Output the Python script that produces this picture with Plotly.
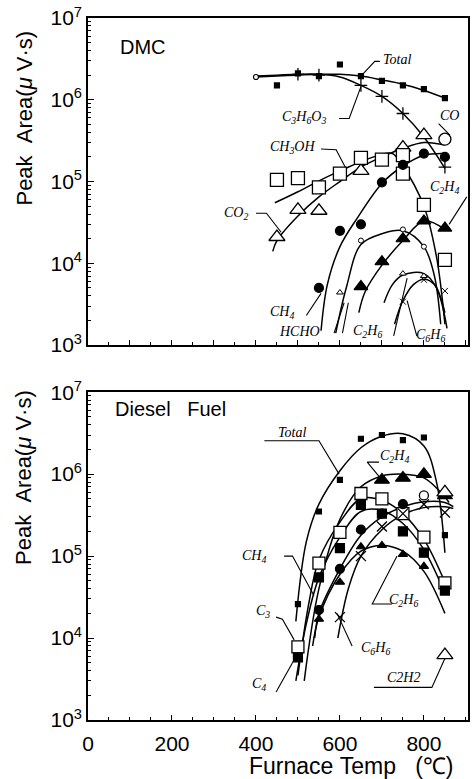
import math
import plotly.graph_objects as go

# ---------------- DMC (top panel) ----------------
dmc_total_x = [450, 500, 550, 600, 650, 700, 750, 800, 850]
dmc_total_y = [1.5e6, 2.1e6, 1.95e6, 2.7e6, 1.95e6, 1.7e6, 1.5e6, 1.35e6, 1.05e6]
dmc_total_fit_x = [400, 450, 500, 550, 600, 650, 700, 750, 800, 850]
dmc_total_fit_y = [1.9e6, 1.95e6, 2.0e6, 2.05e6, 2.05e6, 1.95e6, 1.75e6, 1.55e6, 1.3e6, 1.05e6]

dmc_c3h6o3_x = [500, 550, 650, 700, 750, 850]
dmc_c3h6o3_y = [2.05e6, 2.0e6, 1.5e6, 1.1e6, 6.8e5, 1.5e5]
dmc_c3h6o3_fit_x = [400, 450, 500, 550, 600, 650, 700, 750, 800, 850]
dmc_c3h6o3_fit_y = [1.95e6, 2.0e6, 2.05e6, 2.05e6, 1.9e6, 1.5e6, 1.1e6, 6.8e5, 3.5e5, 1.45e5]
dmc_start_x = [400]
dmc_start_y = [1.9e6]

dmc_co_x = [850]
dmc_co_y = [3.3e5]

dmc_co2_x = [450, 500, 550, 650, 750, 800]
dmc_co2_y = [2.1e4, 4.5e4, 4.4e4, 1.35e5, 2.6e5, 3.7e5]
dmc_co2_fit_x = [440, 450, 500, 550, 600, 650, 700, 750, 800, 850]
dmc_co2_fit_y = [1.4e4, 1.9e4, 3.8e4, 6.5e4, 1.0e5, 1.5e5, 2.0e5, 2.55e5, 3.0e5, 2.8e5]

dmc_ch3oh_x = [450, 500, 550, 600, 650, 700, 750, 750, 800, 850]
dmc_ch3oh_y = [1.05e5, 1.1e5, 8.5e4, 1.25e5, 1.95e5, 1.85e5, 2.1e5, 1.25e5, 5.2e4, 1.1e4]
dmc_ch3oh_fit_x = [445, 500, 550, 600, 650, 700, 725, 750, 800, 830, 850]
dmc_ch3oh_fit_y = [5.5e4, 7.5e4, 1.02e5, 1.35e5, 1.75e5, 2.15e5, 2.2e5, 1.55e5, 5.0e4, 1.2e4, 1.8e3]

dmc_ch4_x = [550, 600, 650, 700, 750, 800, 850]
dmc_ch4_y = [5.0e3, 2.5e4, 3.0e4, 9.8e4, 1.6e5, 2.2e5, 2.0e5]
dmc_ch4_fit_x = [555, 570, 600, 640, 700, 750, 800, 850]
dmc_ch4_fit_y = [1.5e3, 5.5e3, 1.6e4, 3.5e4, 9.5e4, 1.55e5, 2.1e5, 2.2e5]

dmc_c2h4_x = [650, 700, 750, 800, 850]
dmc_c2h4_y = [5.2e3, 1.05e4, 2.0e4, 3.3e4, 2.7e4]
dmc_c2h4_fit_x = [645, 660, 700, 750, 800, 850]
dmc_c2h4_fit_y = [2.5e3, 4.5e3, 9.5e3, 1.9e4, 3.3e4, 2.6e4]

dmc_hcho_x = [650, 750, 800]
dmc_hcho_y = [1.9e4, 2.6e4, 1.6e4]
dmc_hcho_fit_x = [590, 615, 650, 700, 750, 800, 825, 840]
dmc_hcho_fit_y = [1.4e3, 5e3, 1.7e4, 2.3e4, 2.5e4, 1.6e4, 7e3, 1.8e3]

dmc_c2h6_x = [600, 750, 800]
dmc_c2h6_y = [4.4e3, 7.5e3, 7.0e3]
dmc_c2h6_fit_x = [705, 725, 750, 800, 830, 855]
dmc_c2h6_fit_y = [3.3e3, 5.5e3, 7.2e3, 7.5e3, 5.0e3, 1.6e3]

dmc_c6h6_x = [750, 800, 850]
dmc_c6h6_y = [3.4e3, 6.3e3, 4.6e3]
dmc_c6h6_fit_x = [730, 750, 775, 800, 825, 850]
dmc_c6h6_fit_y = [1.8e3, 3.5e3, 5.5e3, 6.4e3, 5.5e3, 2.5e3]

# ---------------- Diesel fuel (bottom panel) ----------------
df_total_x = [500, 550, 600, 650, 700, 750, 800, 850]
df_total_y = [2.6e4, 3.5e5, 8.5e5, 2.7e6, 3.0e6, 2.6e6, 2.8e6, 1.8e5]
df_total_fit_x = [495, 520, 550, 600, 650, 700, 750, 800, 830, 850]
df_total_fit_y = [1.6e4, 1.5e5, 4.3e5, 1.1e6, 2.1e6, 2.9e6, 3.1e6, 2.2e6, 8e5, 1.1e5]

df_c2h4_x = [700, 750, 800, 850]
df_c2h4_y = [8.5e5, 9.0e5, 1.0e6, 5.5e5]
df_c2h4_fit_x = [515, 550, 600, 650, 700, 750, 800, 840, 860]
df_c2h4_fit_y = [3e3, 4e4, 2.8e5, 7e5, 9.5e5, 1.0e6, 9e5, 6e5, 4.5e5]

df_c3_x = [500, 550, 600, 650, 700, 750, 800, 850]
df_c3_y = [7.8e3, 8.2e4, 1.95e5, 5.8e5, 5.0e5, 3.3e5, 1.7e5, 4.7e4]
df_c3_fit_x = [500, 525, 550, 600, 650, 700, 750, 800, 850]
df_c3_fit_y = [3.5e3, 2.5e4, 9e4, 2.6e5, 5.0e5, 4.8e5, 3.3e5, 1.6e5, 4.8e4]

df_c4_x = [500, 550, 600, 650, 700, 750, 800, 850]
df_c4_y = [5.8e3, 5.5e4, 1.25e5, 4.2e5, 3.3e5, 2.0e5, 1.1e5, 3.8e4]
df_c4_fit_x = [495, 520, 550, 600, 650, 700, 750, 800, 850]
df_c4_fit_y = [3e3, 1.5e4, 5.5e4, 1.7e5, 3.5e5, 3.6e5, 2.5e5, 1.2e5, 3.5e4]

df_ch4_x = [550, 600, 650, 700, 750]
df_ch4_y = [2.2e4, 7e4, 2.1e5, 3.3e5, 4.3e5]
df_ch4_fit_x = [540, 550, 600, 650, 700, 750, 800, 850, 870]
df_ch4_fit_y = [1e4, 2.0e4, 7e4, 1.8e5, 3.0e5, 4.0e5, 4.6e5, 4.5e5, 4.0e5]

df_c6h6_x = [600, 650, 700, 750, 800, 850]
df_c6h6_y = [1.8e4, 1.0e5, 2.3e5, 3.3e5, 4.3e5, 3.4e5]
df_c6h6_fit_x = [595, 620, 650, 700, 750, 800, 850, 870]
df_c6h6_fit_y = [1e4, 4e4, 1.0e5, 2.1e5, 3.2e5, 3.9e5, 4.0e5, 3.8e5]

df_c2h6_x = [550, 600, 650, 700, 750, 800, 850]
df_c2h6_y = [1.7e4, 4.8e4, 1.3e5, 1.35e5, 1.05e5, 7.5e4, 3.6e4]
df_c2h6_fit_x = [535, 550, 600, 650, 700, 750, 800, 850]
df_c2h6_fit_y = [8e3, 1.8e4, 6e4, 1.15e5, 1.35e5, 1.15e5, 6.5e4, 2.0e4]

df_c2h2_x = [850, 850]
df_c2h2_y = [6.2e3, 6.0e5]
df_misc_circle_x = [800]
df_misc_circle_y = [5.5e5]

# ---------------- axes ----------------
y_tickvals = [1e3, 1e4, 1e5, 1e6, 1e7]
y_ticktext = ["10<sup>3</sup>", "10<sup>4</sup>", "10<sup>5</sup>", "10<sup>6</sup>", "10<sup>7</sup>"]
y_minor = [k * 10 ** n for n in range(3, 7) for k in range(2, 10)]
x_range = [0, 905]

# ---------------- labels (text, x, y) ----------------
dmc_labels = [
    ("Total", 735, 3.1e6),
    ("C<sub>3</sub>H<sub>6</sub>O<sub>3</sub>", 515, 6.0e5),
    ("CO", 862, 6.5e5),
    ("CH<sub>3</sub>OH", 487, 2.6e5),
    ("CO<sub>2</sub>", 352, 4.1e4),
    ("C<sub>2</sub>H<sub>4</sub>", 848, 8.5e4),
    ("CH<sub>4</sub>", 462, 2.5e3),
    ("HCHO", 503, 1.45e3),
    ("C<sub>2</sub>H<sub>6</sub>", 665, 1.45e3),
    ("C<sub>6</sub>H<sub>6</sub>", 815, 1.3e3),
]
dmc_leaders = [
    ([695, 683, 650], [2.95e6, 2.95e6, 1.95e6]),
    ([598, 622, 650], [5.9e5, 5.9e5, 1.45e6]),
    ([835, 862], [5.1e5, 3.7e5]),
    ([555, 591, 614], [2.5e5, 2.45e5, 1.45e5]),
    ([400, 425, 460], [4.1e4, 4.1e4, 2.4e4]),
    ([902, 860], [6.5e4, 3.0e4]),
    ([520, 555], [2.3e3, 4.3e3]),
    ([586, 610], [1.4e3, 3.3e3]),
    ([606, 620], [1.4e3, 3.3e3]),
    ([728, 760], [1.3e3, 6.6e3]),
    ([783, 760], [1.3e3, 3.5e3]),
]
df_labels = [
    ("Total", 487, 3.2e6),
    ("C<sub>2</sub>H<sub>4</sub>", 730, 1.65e6),
    ("CH<sub>4</sub>", 396, 1.0e5),
    ("C<sub>3</sub>", 416, 2.1e4),
    ("C<sub>4</sub>", 408, 2.7e3),
    ("C<sub>2</sub>H<sub>6</sub>", 752, 2.9e4),
    ("C<sub>6</sub>H<sub>6</sub>", 684, 7.4e3),
    ("C2H2", 752, 3.3e3),
]
df_leaders = [
    ([420, 550, 598], [2.55e6, 2.55e6, 1.0e6]),
    ([693, 665, 697], [1.4e6, 1.4e6, 8.9e5]),
    ([467, 487, 538], [1.0e5, 1.0e5, 3.3e4]),
    ([448, 463, 491], [1.8e4, 1.7e4, 9.5e3]),
    ([448, 495], [2.2e3, 5.9e3]),
    ([724, 677, 736], [2.6e4, 2.6e4, 1.0e5]),
    ([629, 593], [8.0e3, 2.0e4]),
    ([681, 819, 851], [2.5e3, 2.5e3, 5.8e3]),
]

fig = go.Figure()


def curve(x, y, ax):
    fig.add_trace(go.Scatter(x=x, y=y, mode="lines", xaxis=ax[0], yaxis=ax[1],
                             line=dict(color="black", width=1.5, shape="spline", smoothing=1.0),
                             hoverinfo="skip", showlegend=False))


def leader(x, y, ax):
    fig.add_trace(go.Scatter(x=x, y=y, mode="lines", xaxis=ax[0], yaxis=ax[1],
                             line=dict(color="black", width=1.1),
                             hoverinfo="skip", showlegend=False))


def marks(x, y, ax, symbol, size, fill="black", lw=1.2):
    fig.add_trace(go.Scatter(x=x, y=y, mode="markers", xaxis=ax[0], yaxis=ax[1],
                             marker=dict(symbol=symbol, size=size, color=fill,
                                         line=dict(color="black", width=lw)),
                             showlegend=False))


TOP = ("x", "y")
BOT = ("x2", "y2")

for cx, cy in [(dmc_total_fit_x, dmc_total_fit_y), (dmc_c3h6o3_fit_x, dmc_c3h6o3_fit_y),
               (dmc_co2_fit_x, dmc_co2_fit_y), (dmc_ch3oh_fit_x, dmc_ch3oh_fit_y),
               (dmc_ch4_fit_x, dmc_ch4_fit_y), (dmc_c2h4_fit_x, dmc_c2h4_fit_y),
               (dmc_hcho_fit_x, dmc_hcho_fit_y), (dmc_c2h6_fit_x, dmc_c2h6_fit_y),
               (dmc_c6h6_fit_x, dmc_c6h6_fit_y)]:
    curve(cx, cy, TOP)
for lx, ly in dmc_leaders:
    leader(lx, ly, TOP)

marks(dmc_total_x, dmc_total_y, TOP, "square", 5)
marks(dmc_c3h6o3_x, dmc_c3h6o3_y, TOP, "cross-thin", 9, lw=1.3)
marks(dmc_start_x, dmc_start_y, TOP, "circle", 5, fill="white")
marks(dmc_co_x, dmc_co_y, TOP, "circle", 12, fill="white", lw=1.3)
marks(dmc_co2_x, dmc_co2_y, TOP, "triangle-up", 14, fill="white", lw=1.3)
marks(dmc_ch3oh_x, dmc_ch3oh_y, TOP, "square", 13, fill="white", lw=1.3)
marks(dmc_ch4_x, dmc_ch4_y, TOP, "circle", 9)
marks(dmc_c2h4_x, dmc_c2h4_y, TOP, "triangle-up", 12)
marks(dmc_hcho_x, dmc_hcho_y, TOP, "circle", 5, fill="white", lw=1)
marks(dmc_c2h6_x, dmc_c2h6_y, TOP, "triangle-up", 6, fill="white", lw=1)
marks(dmc_c6h6_x, dmc_c6h6_y, TOP, "x-thin", 6, lw=1)

for cx, cy in [(df_total_fit_x, df_total_fit_y), (df_c2h4_fit_x, df_c2h4_fit_y),
               (df_c3_fit_x, df_c3_fit_y), (df_c4_fit_x, df_c4_fit_y),
               (df_ch4_fit_x, df_ch4_fit_y), (df_c6h6_fit_x, df_c6h6_fit_y),
               (df_c2h6_fit_x, df_c2h6_fit_y)]:
    curve(cx, cy, BOT)
for lx, ly in df_leaders:
    leader(lx, ly, BOT)

marks(df_total_x, df_total_y, BOT, "square", 5)
marks(df_c2h4_x, df_c2h4_y, BOT, "triangle-up", 13)
marks(df_c3_x, df_c3_y, BOT, "square", 12, fill="white", lw=1.3)
marks(df_c4_x, df_c4_y, BOT, "square", 9)
marks(df_ch4_x, df_ch4_y, BOT, "circle", 9)
marks(df_c6h6_x, df_c6h6_y, BOT, "x-thin", 10, lw=1.3)
marks(df_c2h6_x, df_c2h6_y, BOT, "triangle-up", 8)
marks(df_c2h2_x, df_c2h2_y, BOT, "triangle-up", 14, fill="white", lw=1.3)
marks(df_misc_circle_x, df_misc_circle_y, BOT, "circle", 9, fill="white", lw=1.3)

LBL_FONT = dict(family="Liberation Serif", size=14, color="black")
annotations = []
for text, x, y in dmc_labels:
    annotations.append(dict(text="<i>" + text + "</i>", x=x, y=math.log10(y), xref="x", yref="y",
                            xanchor="center", yanchor="middle", showarrow=False, font=LBL_FONT))
for text, x, y in df_labels:
    annotations.append(dict(text="<i>" + text + "</i>", x=x, y=math.log10(y), xref="x2", yref="y2",
                            xanchor="center", yanchor="middle", showarrow=False, font=LBL_FONT))

SANS = "Liberation Sans"
YTITLE = "Peak\u00a0\u00a0Area(<i>\u03bc</i>\u00a0V\u00b7s)"
annotations += [
    dict(text="DMC", x=0.078, y=0.958, xref="paper", yref="paper", xanchor="left", yanchor="middle",
         showarrow=False, font=dict(family=SANS, size=20, color="black")),
    dict(text="Diesel\u00a0\u00a0\u00a0Fuel", x=0.065, y=0.443, xref="paper", yref="paper",
         xanchor="left", yanchor="middle",
         showarrow=False, font=dict(family=SANS, size=20, color="black")),
    dict(text=YTITLE, x=-0.168, y=0.857, xref="paper", yref="paper", xanchor="center", yanchor="middle",
         textangle=-90, showarrow=False, font=dict(family=SANS, size=22, color="black")),
    dict(text=YTITLE, x=-0.168, y=0.345, xref="paper", yref="paper", xanchor="center", yanchor="middle",
         textangle=-90, showarrow=False, font=dict(family=SANS, size=22, color="black")),
    dict(text="Furnace\u00a0Temp\u00a0\u00a0\u00a0(\u2103)", x=0.694, y=-0.066, xref="paper", yref="paper",
         xanchor="center", yanchor="middle",
         showarrow=False, font=dict(family=SANS, size=23, color="black")),
]

axis_common = dict(showline=True, linecolor="black", linewidth=1.6, mirror=True, ticks="inside",
                   tickcolor="black", showgrid=False, zeroline=False,
                   tickfont=dict(family=SANS, size=21, color="black"))

fig.update_layout(
    width=472, height=779,
    margin=dict(l=88, r=2, t=18, b=59),
    paper_bgcolor="white", plot_bgcolor="white", showlegend=False,
    xaxis=dict(domain=[0, 1], anchor="y", range=x_range, tick0=0, dtick=100, ticklen=5,
               showticklabels=False,
               minor=dict(dtick=50, tick0=0, ticks="inside", ticklen=3, tickcolor="black"),
               **axis_common),
    yaxis=dict(domain=[0.534, 1], anchor="x", type="log", range=[3, 7], tickmode="array",
               tickvals=y_tickvals, ticktext=y_ticktext, ticklen=6,
               minor=dict(tickmode="array", tickvals=y_minor, ticks="inside", ticklen=3, tickcolor="black"),
               **axis_common),
    xaxis2=dict(domain=[0, 1], anchor="y2", range=x_range, tick0=0, dtick=200, ticklen=5,
                ticklabelstandoff=4,
                minor=dict(dtick=50, tick0=0, ticks="inside", ticklen=3, tickcolor="black"),
                **axis_common),
    yaxis2=dict(domain=[0, 0.467], anchor="x2", type="log", range=[3, 7], tickmode="array",
                tickvals=y_tickvals, ticktext=y_ticktext, ticklen=6,
                minor=dict(tickmode="array", tickvals=y_minor, ticks="inside", ticklen=3, tickcolor="black"),
                **axis_common),
    annotations=annotations,
)

fig.write_html("out.html")
